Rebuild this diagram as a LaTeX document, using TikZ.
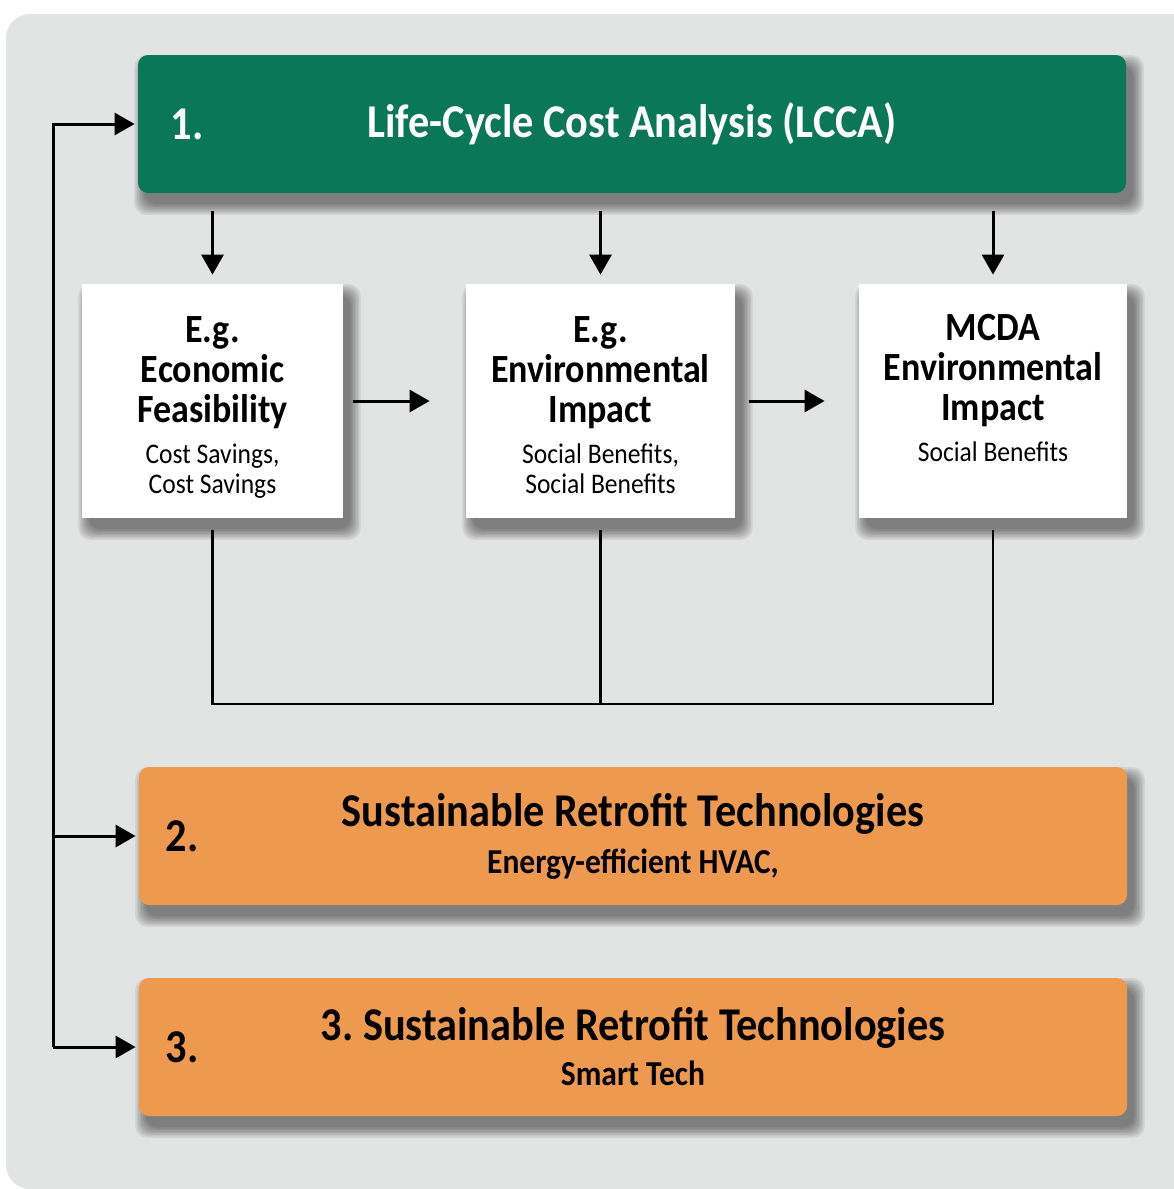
\documentclass[tikz,border=0pt]{standalone}
\usepackage{xcolor}
\usepackage{fontspec}
\setmainfont{Carlito}[FakeStretch=0.9]
\usepackage{tikz}
\usetikzlibrary{positioning,arrows.meta,calc}

\definecolor{lccagreen}{HTML}{0B7759}
\definecolor{techorange}{HTML}{EE9A4E}
\definecolor{panelgray}{HTML}{E2E3E3}

\pgfdeclarelayer{backdrop}
\pgfdeclarelayer{shade}
\pgfsetlayers{backdrop,shade,main}

\newcommand{\headfont}{\fontsize{20}{20}\selectfont\bfseries}
\newcommand{\bodyfont}{\fontsize{14.2}{15}\selectfont\mdseries}
\newcommand{\titlefont}{\fontsize{23.5}{25}\selectfont\bfseries}
\newcommand{\subfont}{\fontsize{17.5}{18}\selectfont\bfseries}

% soft shadow: stacked translucent rectangles behind a node
\newcommand{\dropshade}[1]{%
  \foreach \k in {0,...,7}{%
    \pgfmathsetmacro{\e}{\k*1.5}
    \fill[black, opacity=0.065, rounded corners=6pt]
      ($(#1.south west)+(7-\e,-11-\e)$) rectangle ($(#1.north east)+(7+\e,-11+\e)$);
  }}

\tikzset{
  flow/.style={line width=1.5pt, -{Triangle[length=10pt,width=11pt]}},
  link/.style={line width=1.4pt},
  wide/.style={rectangle, rounded corners=5pt, inner sep=0pt, minimum width=494pt,
      minimum height=69pt, align=center},
  crit/.style={rectangle, fill=white, inner sep=0pt, minimum height=117pt,
      align=center, font=\headfont},
}

\begin{document}
\begin{tikzpicture}[x=0.5pt, y=0.5pt]
  \useasboundingbox (0,0) rectangle (1173,-1189);
  \begin{pgfonlayer}{backdrop}
    \fill[panelgray, rounded corners=12pt] (6,-14) rectangle (1200,-1189);
  \end{pgfonlayer}

  % top stage
  \node (lcca) [wide, fill=lccagreen, text=white, font=\titlefont] at (632,-124)
    {Life-Cycle Cost Analysis (LCCA)};
  \node (n1) [text=white, anchor=west, font=\titlefont] at ($(lcca.west)+(26,0)$) {1.};

  % criteria boxes
  \node (econ) [crit, minimum width=130.5pt] at (212.5,-401)
    {\rule{0pt}{19pt}E.g.\\Economic\\Feasibility\\[0.5pt]\bodyfont Cost Savings,\\[-5pt]\bodyfont Cost Savings};
  \node (env) [crit, minimum width=134.5pt] at (600.5,-401)
    {\rule{0pt}{17pt}E.g.\\Environmental\\Impact\\[0.5pt]\bodyfont Social Benefits,\\[-5pt]\bodyfont Social Benefits};
  \node (mcda) [crit, minimum width=134pt] at (993,-401)
    {MCDA\\Environmental\\Impact\\[0.5pt]\bodyfont Social Benefits\rule[-13pt]{0pt}{0pt}};

  % technology stages
  \node (tech2) [wide, fill=techorange, font=\titlefont] at (633,-836)
    {Sustainable Retrofit Technologies\\[-1.5pt]\subfont Energy-efficient HVAC,};
  \node (n2) [anchor=west, font=\titlefont] at ($(tech2.west)+(20,0)$) {2.};
  \node (tech3) [wide, fill=techorange, font=\titlefont] at (633,-1047)
    {3.\ Sustainable Retrofit Technologies\\[-2.5pt]\subfont Smart Tech};
  \node (n3) [anchor=west, font=\titlefont] at ($(tech3.west)+(20,0)$) {3.};

  \begin{pgfonlayer}{shade}
    \foreach \b in {lcca,econ,env,mcda,tech2,tech3}{\dropshade{\b}}
  \end{pgfonlayer}

  % arrows from LCCA to each criterion
  \draw[flow, shorten <=9pt, shorten >=4.5pt] (lcca.south -| econ.north) -- (econ.north);
  \draw[flow, shorten <=9pt, shorten >=4.5pt] (lcca.south -| env.north) -- (env.north);
  \draw[flow, shorten <=9pt, shorten >=4.5pt] (lcca.south -| mcda.north) -- (mcda.north);

  \draw[flow, shorten <=5pt, shorten >=18pt] (econ.east) -- (env.west);
  \draw[flow, shorten <=7pt, shorten >=17pt] (env.east) -- (mcda.west);

  % merge below the criteria
  \coordinate (merge) at (600.5,-704);
  \draw[link, shorten <=6pt] (econ.south) |- (merge);
  \draw[link, shorten <=6pt] (mcda.south) |- (merge);
  \draw[link, shorten <=6pt] (env.south) -- (merge);

  % feedback line on the left
  \coordinate (bus) at (53,-1047);
  \draw[flow, shorten >=1.5pt] (bus) |- (lcca.west);
  \draw[flow, shorten >=1.5pt] (bus) -- (tech3.west);
  \draw[flow, shorten >=1.5pt] (bus |- tech2.west) -- (tech2.west);
\end{tikzpicture}
\end{document}
